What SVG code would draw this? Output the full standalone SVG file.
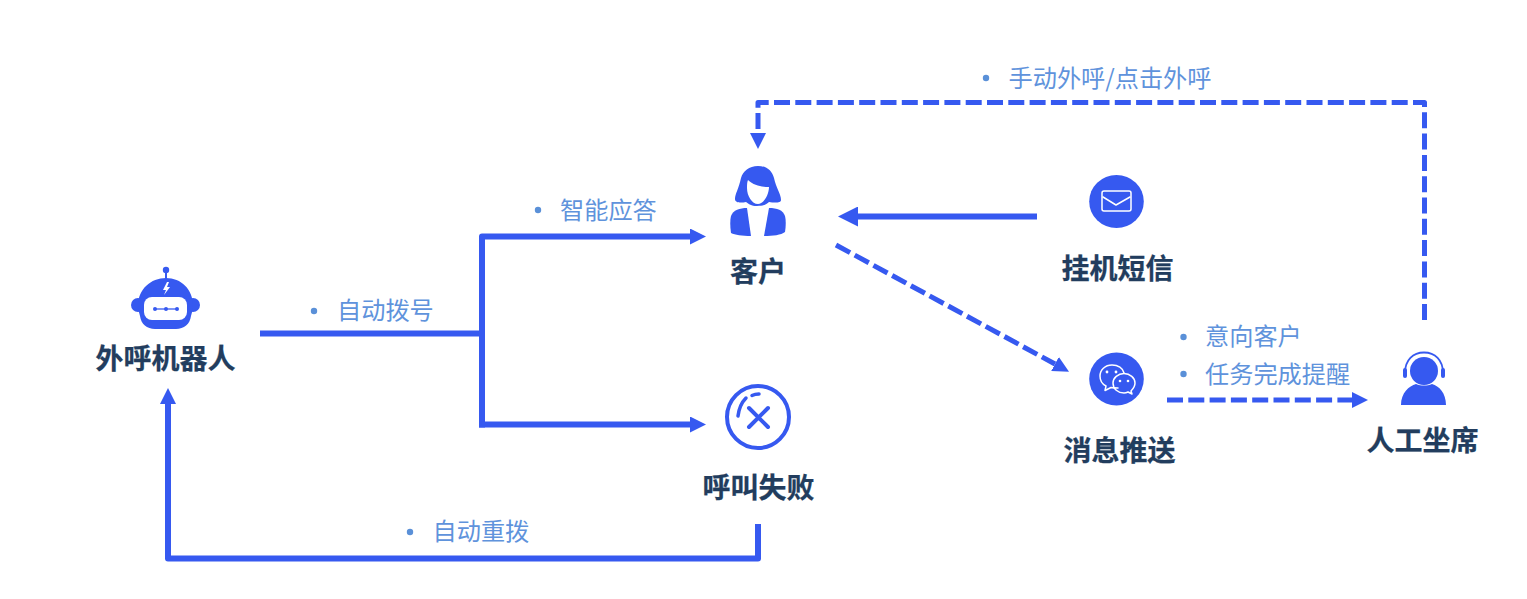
<svg xmlns="http://www.w3.org/2000/svg" width="1527" height="599" viewBox="0 0 1527 599">
<style>
text{font-family:"Noto Sans CJK SC","Noto Sans",sans-serif}
.t{font-size:28px;font-weight:700;fill:#223d5e;text-anchor:middle;stroke:#223d5e;stroke-width:.25}
.l{font-size:24.200px;fill:#5f93dc}
.b{fill:#5a90d8}
.s{fill:none;stroke:#3659f0;stroke-width:6;stroke-linejoin:round}
.q{stroke-linecap:square}
.d{fill:none;stroke:#3659f0;stroke-width:5;stroke-dasharray:16 5.3;stroke-linejoin:round}
.f{fill:#3659f0}
.w{fill:none;stroke:#fff;stroke-linecap:round;stroke-linejoin:round}
</style>
<defs>
<marker id="a" viewBox="0 0 16 16" refX="0" refY="8" markerWidth="16" markerHeight="16" markerUnits="userSpaceOnUse" orient="auto"><path d="M0 0L16 8L0 16Z" fill="#3659f0"/></marker>
<marker id="c" viewBox="0 0 20 20" refX="0" refY="10" markerWidth="20" markerHeight="20" markerUnits="userSpaceOnUse" orient="auto"><path d="M0 0L20 10L0 20Z" fill="#3659f0"/></marker>
</defs>
<rect width="1527" height="599" fill="#fff"/>
<g id="connectors">
<path class="s" d="M260 333.500H479"/>
<path class="s q" d="M482 424.500V236.500H690" marker-end="url(#a)"/>
<path class="s q" d="M482 424.500H690" marker-end="url(#a)"/>
<path class="s" d="M758 524V558.500H168V404" marker-end="url(#a)"/>
<path class="d" d="M1424.500 320V102.500H758V133" marker-end="url(#a)"/>
<path class="s" d="M1037 216.500H858" marker-end="url(#c)"/>
<path class="d" d="M836 245L1055 364" marker-end="url(#a)"/>
<path class="d" d="M1167 400H1352" marker-end="url(#a)"/>
</g>
<g id="labels">
<circle class="b" cx="314" cy="311" r="3.2"/><text class="l" x="337" y="319">自动拨号</text>
<circle class="b" cx="538" cy="210" r="3.2"/><text class="l" x="560" y="219">智能应答</text>
<circle class="b" cx="986" cy="78" r="3.2"/><text class="l" x="1008.500" y="87">手动外呼/点击外呼</text>
<circle class="b" cx="1183.500" cy="337" r="3.2"/><text class="l" x="1205" y="345">意向客户</text>
<circle class="b" cx="1183.500" cy="374" r="3.2"/><text class="l" x="1205" y="383">任务完成提醒</text>
<circle class="b" cx="410" cy="532" r="3.2"/><text class="l" x="432.500" y="540">自动重拨</text>
</g>
<g id="robot">
<circle class="f" cx="166" cy="270" r="3.2"/><rect class="f" x="165" y="272" width="2" height="8"/>
<circle class="f" cx="138" cy="305" r="7"/><circle class="f" cx="193" cy="305" r="7"/>
<path class="f" d="M138 306C138 289 151 278 166 278C181 278 193 289 193 306C193 310 192 312 191 316C190 324 184 329 176 329H155C147 329 141 324 140 316C139 312 138 310 138 306Z"/>
<rect x="144" y="297" width="43" height="23" rx="8" fill="#fff"/>
<path d="M155 309H177" stroke="#3659f0" stroke-width="1.3"/>
<circle class="f" cx="155" cy="309" r="2"/><circle class="f" cx="166" cy="309" r="2"/><circle class="f" cx="177" cy="309" r="2"/>
<path d="M167 282L163 290H166L164 295L170 287H167L169 282Z" fill="#fff"/>
<text class="t" x="165.500" y="369">外呼机器人</text>
</g>
<g id="customer">
<path class="f" d="M758 166C767 166 772 171 774 178C776 188 781 194 781 200C781 203 775 203 769 202C767 204 764 206 757 206C751 206 749 204 746 202C741 203 735 203 735 199C735 194 739 188 741 178C743 171 749 166 758 166Z"/>
<path d="M748 180C754 186 764 187 769 187C769 194 764 204 758 204C752 204 747 196 747 188C747 185 747 182 748 180Z" fill="#fff"/>
<path class="f" d="M747 208L751 236C742 236 735 235 731 233C730 226 730 220 731 216C733 210 740 208 747 208Z"/>
<path class="f" d="M769 208C777 208 783 210 785 216C786 220 786 226 785 232C781 235 773 236 764 236Z"/>
<text class="t" x="758" y="282">客户</text>
</g>
<g id="fail">
<circle cx="758" cy="417" r="31" fill="none" stroke="#3659f0" stroke-width="4"/>
<path d="M749 408L768 427M768 408L749 427" fill="none" stroke="#3659f0" stroke-width="4" stroke-linecap="round"/>
<path d="M738 416C739 408 742 402 746 398M752 395.500C754 394.500 757 394 759 394" fill="none" stroke="#3659f0" stroke-width="3.500" stroke-linecap="round"/>
<text class="t" x="758.500" y="497.500">呼叫失败</text>
</g>
<g id="sms">
<ellipse class="f" cx="1116.500" cy="201.500" rx="27.300" ry="26.500"/>
<rect class="w" x="1102" y="191" width="29" height="20" rx="2" stroke-width="1.500"/>
<path class="w" d="M1103 197L1116 205L1130 197" stroke-width="1.500"/>
<text class="t" x="1117.500" y="279">挂机短信</text>
</g>
<g id="push">
<ellipse class="f" cx="1116.500" cy="379" rx="27.300" ry="26.500"/>
<path class="w" stroke-width="1.500" d="M1118 388C1116 388 1113 388 1111 387.500L1105 390.500L1106 386C1102 384 1100 380 1100 376C1100 370 1105 365 1112 365C1118 365 1123 368 1124 373"/>
<path class="w" stroke-width="1.500" d="M1124 373.500C1130 373.500 1135 378 1135 383C1135 386 1133 389 1131 391L1132 394L1128 392C1126 393 1125 393 1124 393C1118 393 1113 389 1113 383C1113 378 1118 373.500 1124 373.500Z"/>
<g fill="#fff"><circle cx="1107" cy="372" r="1.400"/><circle cx="1116" cy="372" r="1.400"/><circle cx="1120" cy="381" r="1.300"/><circle cx="1128" cy="381" r="1.300"/></g>
<text class="t" x="1119.500" y="461">消息推送</text>
</g>
<g id="agent">
<path d="M1405 373C1405 360 1413 352.500 1424 352.500C1435 352.500 1443 360 1443 373" fill="none" stroke="#3659f0" stroke-width="1.800"/>
<rect class="f" x="1403" y="368" width="4" height="10" rx="2"/><rect class="f" x="1441" y="368" width="4" height="10" rx="2"/>
<circle class="f" cx="1424" cy="371" r="14"/>
<path class="f" d="M1401 405C1401 393 1409 386 1416 384C1421 386 1427 386 1432 384C1439 386 1446 393 1446 405Z"/>
<text class="t" x="1422.500" y="451">人工坐席</text>
</g>
</svg>
